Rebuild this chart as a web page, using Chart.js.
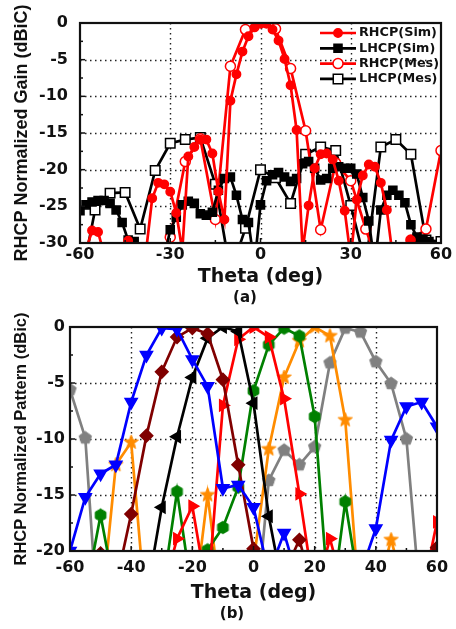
<!DOCTYPE html>
<html>
<head>
<meta charset="utf-8">
<script src="https://cdn.jsdelivr.net/npm/chart.js@4.4.0/dist/chart.umd.min.js"></script>
<style>
  html, body { margin: 0; padding: 0; background: #fff; }
  body { width: 456px; height: 629px; position: relative; overflow: hidden; }
  .pane { position: absolute; left: 0; }
  .cap { position: absolute; font: bold 15px "DejaVu Sans", sans-serif; color: #111;
         transform: translate(-50%, -50%); white-space: nowrap; }
</style>
</head>
<body>
<div class="pane" style="top:0"><canvas id="chartA" width="456" height="290" style="width:456px;height:290px"></canvas></div>
<div class="cap" style="left:245px;top:297px">(a)</div>
<div class="pane" style="top:305px"><canvas id="chartB" width="456" height="324" style="width:456px;height:324px"></canvas></div>
<div class="cap" style="left:232px;top:613px">(b)</div>
<script>
// ---------- (a) RHCP / LHCP gain, simulated (2° step) and measured (5° step) ----------
const simTheta = [-60,-58,-56,-54,-52,-50,-48,-46,-44,-42,-40,-38,-36,-34,-32,-30,-28,-26,-24,-22,-20,
  -18,-16,-14,-12,-10,-8,-6,-4,-2,0,2,4,6,8,10,12,14,16,18,20,22,24,26,28,30,32,34,36,38,40,
  42,44,46,48,50,52,54,56,58,60];
const rhcpSim = [-34,-31,-28.3,-28.5,-31.5,-35,-35,-32,-29.7,-32,-35,-31,-23.9,-21.8,-22.0,-23.0,-25.9,-31,-18.2,-16.9,-15.9,
  -15.9,-17.8,-23.0,-26.8,-10.6,-7.0,-3.9,-1.8,-0.6,0,-0.1,-0.9,-2.4,-4.9,-8.5,-14.6,-31,-24.9,-19.8,-17.9,
  -17.8,-18.6,-21.5,-25.6,-32,-24.1,-20.8,-19.3,-19.6,-21.8,-25.5,-32,-35,-33,-29.6,-31,-35,-35,-35,-35];
const lhcpSim = [-25.6,-24.8,-24.4,-24.2,-24.2,-24.6,-25.5,-27.2,-29.6,-29.8,-33,-35,-35,-35,-32,-28.2,-26.5,-24.8,-24.3,-24.6,-26.0,
  -26.2,-25.8,-22.8,-21.2,-21.0,-23.5,-26.8,-27.2,-33,-24.8,-21.5,-20.7,-20.4,-21.0,-21.6,-21.2,-19.2,-18.9,-19.8,-21.4,
  -21.2,-19.8,-19.6,-19.8,-19.8,-20.6,-23.8,-27,-33,-25.5,-23.5,-22.8,-23.5,-24.5,-27.5,-29.2,-29.5,-29.8,-30.5,-31];
const mesTheta = [-60,-55,-50,-45,-40,-35,-30,-25,-20,-15,-10,-5,0,5,10,15,20,25,30,35,40,45,50,55,60];
const rhcpMes = [-35,-35,-35,-35,-35,-33,-29.2,-18.9,-15.8,-26.8,-5.9,-0.9,0,-0.8,-6.2,-14.7,-28.2,-19.1,-21.5,-28.1,-34,-34,-29.6,-28.1,-17.4];
const lhcpMes = [-36,-25.5,-23.2,-23.1,-28.1,-20.1,-16.4,-15.9,-15.6,-22.0,-34,-28.0,-20.0,-21.1,-24.6,-17.9,-16.9,-17.4,-24.9,-33,-16.9,-15.9,-17.9,-29.6,-29.8];
const gainTicksX = [-60,-30,0,30,60];
const gainTicksY = [-30,-25,-20,-15,-10,-5,0];

// ---------- (b) normalized RHCP patterns of the steered beams ----------
const patternTheta = [-60,-55,-50,-45,-40,-35,-30,-25,-20,-15,-10,-5,0,5,10,15,20,25,30,35,40,45,50,55,60];
const beamBlue   = [-20,-15.2,-13.1,-12.3,-6.7,-2.5,-0.1,-0.2,-2.9,-5.3,-14.4,-14.1,-16.1,-22,-18.4,-23,-24,-24,-24,-22,-18,-10.1,-7.1,-6.7,-8.9];
const beamMaroon = [-24,-24,-20.2,-23,-16.7,-9.7,-4.0,-0.9,-0.1,-0.6,-4.7,-12.3,-19.8,-23,-22,-19.0,-24,-24,-24,-24,-24,-24,-24,-23,-19.7];
const beamBlack  = [-24,-24,-24,-24,-24,-24,-16.1,-9.8,-4.5,-1.0,0,-0.4,-6.8,-16.9,-24,-24,-24,-24,-24,-24,-24,-24,-24,-24,-24];
const beamRed    = [-24,-24,-24,-24,-24,-24,-24,-18.9,-16.0,-24,-7.0,-1.1,0,-0.9,-6.4,-14.9,-24,-18.9,-24,-24,-24,-24,-24,-24,-17.4];
const beamGreen  = [-24,-24,-16.8,-24,-24,-24,-24,-14.7,-24,-19.9,-17.9,-14.3,-5.7,-1.6,-0.1,-0.8,-8.0,-26,-15.6,-24,-24,-24,-24,-24,-24];
const beamOrange = [-24,-24,-26,-12.3,-10.3,-26,-24,-24,-26,-15.0,-26,-24,-21,-10.9,-4.5,-1.25,0,-0.8,-8.3,-26,-24,-19.0,-24,-24,-24];
const beamGray   = [-5.6,-9.9,-30,-24,-24,-24,-24,-24,-24,-24,-24,-24,-28,-13.7,-11.0,-12.3,-10.7,-3.2,-0.1,-0.45,-3.1,-5.05,-10.0,-26,-24];
const patternTicksX = [-60,-40,-20,0,20,40,60];
const patternTicksY = [-20,-15,-10,-5,0];

const pts = (xs, ys) => ys.map((v, i) => ({ x: xs[i], y: v }));

Chart.defaults.font.family = '"DejaVu Sans", sans-serif';
Chart.defaults.font.weight = 'bold';
Chart.defaults.color = '#111';

// custom filled polygon / star markers
function polyMarker(n, rOuter, rInner, color) {
  const s = Math.ceil(rOuter * 2 + 4);
  const c = document.createElement('canvas');
  c.width = c.height = s;
  const g = c.getContext('2d');
  g.translate(s / 2, s / 2);
  const count = rInner ? n * 2 : n;
  g.beginPath();
  for (let i = 0; i < count; i++) {
    const r = rInner ? (i % 2 ? rInner : rOuter) : rOuter;
    const a = -Math.PI / 2 + i * 2 * Math.PI / count;
    const px = Math.cos(a) * r, py = Math.sin(a) * r;
    if (i === 0) g.moveTo(px, py); else g.lineTo(px, py);
  }
  g.closePath();
  g.fillStyle = color; g.fill();
  g.lineWidth = 1; g.strokeStyle = color; g.stroke();
  return c;
}

// dotted interior grid, frame and inward ticks
const framePlugin = {
  id: 'frame',
  beforeDatasetsDraw(chart, args, o) {
    const { ctx, chartArea: a, scales: { x, y } } = chart;
    ctx.save();
    ctx.strokeStyle = '#222';
    ctx.lineWidth = 1.4;
    ctx.setLineDash([1.5, 3.5]);
    o.gridX.forEach(v => {
      const p = Math.round(x.getPixelForValue(v)) + 0.5;
      ctx.beginPath(); ctx.moveTo(p, a.top); ctx.lineTo(p, a.bottom); ctx.stroke();
    });
    o.gridY.forEach(v => {
      const p = Math.round(y.getPixelForValue(v)) + 0.5;
      ctx.beginPath(); ctx.moveTo(a.left, p); ctx.lineTo(a.right, p); ctx.stroke();
    });
    ctx.restore();
  },
  afterDatasetsDraw(chart, args, o) {
    const { ctx, chartArea: a, scales: { x, y } } = chart;
    ctx.save();
    ctx.setLineDash([]);
    ctx.strokeStyle = '#111';
    ctx.lineWidth = 2.2;
    ctx.strokeRect(a.left, a.top, a.right - a.left, a.bottom - a.top);
    ctx.lineWidth = 1.5;
    const tick = (vals, len) => {
      vals.forEach(v => {
        const p = x.getPixelForValue(v);
        ctx.beginPath(); ctx.moveTo(p, a.bottom); ctx.lineTo(p, a.bottom - len); ctx.stroke();
      });
    };
    const tickY = (vals, len) => {
      vals.forEach(v => {
        const p = y.getPixelForValue(v);
        ctx.beginPath(); ctx.moveTo(a.left, p); ctx.lineTo(a.left + len, p); ctx.stroke();
      });
    };
    tick(o.majorX, 5); tick(o.minorX, 3);
    tickY(o.majorY, 5); tickY(o.minorY, 3);
    ctx.restore();
  }
};

// line + marker legend drawn inside the plot
const curveLegend = {
  id: 'curveLegend',
  afterDraw(chart, args, o) {
    if (!o || !o.show) return;
    const ctx = chart.ctx;
    ctx.save();
    chart.data.datasets.forEach((ds, i) => {
      const yy = o.y0 + i * o.dy;
      ctx.setLineDash([]);
      ctx.strokeStyle = ds.borderColor; ctx.lineWidth = ds.borderWidth;
      ctx.beginPath(); ctx.moveTo(o.x0, yy); ctx.lineTo(o.x1, yy); ctx.stroke();
      ctx.fillStyle = ds.pointBackgroundColor;
      ctx.strokeStyle = ds.pointBorderColor;
      ctx.lineWidth = ds.pointBorderWidth;
      Chart.helpers.drawPoint(ctx, { pointStyle: ds.pointStyle, radius: ds.pointRadius, rotation: 0,
        borderWidth: ds.pointBorderWidth }, (o.x0 + o.x1) / 2, yy);
      ctx.fillStyle = '#111';
      ctx.font = 'bold 12.8px "DejaVu Sans", sans-serif';
      ctx.textBaseline = 'middle'; ctx.textAlign = 'left';
      ctx.fillText(ds.label, o.x1 + 3, yy);
    });
    ctx.restore();
  }
};

const noClip = { left: 0, top: 0, right: 0, bottom: 0 };

function lineSet(label, xs, ys, color, style, radius, fill, extra) {
  return Object.assign({
    label, data: pts(xs, ys),
    borderColor: color, borderWidth: 2.7,
    pointStyle: style, pointRadius: radius, pointHoverRadius: radius,
    pointBackgroundColor: fill, pointBorderColor: color, pointBorderWidth: 1.5,
    tension: 0, fill: false, clip: noClip
  }, extra || {});
}

new Chart(document.getElementById('chartA'), {
  type: 'line',
  data: {
    datasets: [
      lineSet('RHCP(Sim)', simTheta, rhcpSim, '#ff0000', 'circle', 4.2, '#ff0000'),
      lineSet('LHCP(Sim)', simTheta, lhcpSim, '#000000', 'rect', 5.7, '#000000'),
      lineSet('RHCP(Mes)', mesTheta, rhcpMes, '#ff0000', 'circle', 5, '#ffffff'),
      lineSet('LHCP(Mes)', mesTheta, lhcpMes, '#000000', 'rect', 6.7, '#ffffff')
    ]
  },
  options: {
    responsive: false, animation: false, events: [],
    layout: { padding: { left: 0, right: 15, top: 23, bottom: 0 } },
    plugins: {
      legend: { display: false }, tooltip: { enabled: false },
      frame: { gridX: [-30, 0, 30], gridY: [-25, -20, -15, -10, -5],
               majorX: gainTicksX, minorX: [-45, -15, 15, 45],
               majorY: gainTicksY, minorY: [-27.5, -22.5, -17.5, -12.5, -7.5, -2.5] },
      curveLegend: { show: true, x0: 320, x1: 356, y0: 33, dy: 15.3 }
    },
    scales: {
      x: {
        type: 'linear', min: -60, max: 60,
        grid: { display: false, drawTicks: false }, border: { display: false },
        afterBuildTicks: s => { s.ticks = gainTicksX.map(v => ({ value: v })); },
        ticks: { padding: 2, color: '#111', font: { size: 16, weight: 'bold' }, maxRotation: 0, autoSkip: false },
        title: { display: true, text: 'Theta (deg)', color: '#111', font: { size: 19, weight: 'bold' },
                 padding: { top: 0, bottom: 2 } },
        afterFit: s => { s.height = 47; }
      },
      y: {
        min: -30, max: 0,
        grid: { display: false, drawTicks: false }, border: { display: false },
        afterBuildTicks: s => { s.ticks = gainTicksY.map(v => ({ value: v })); },
        ticks: { padding: 12, color: '#111', font: { size: 16, weight: 'bold' } },
        title: { display: true, text: 'RHCP Normalized Gain (dBiC)', color: '#111',
                 font: { family: '"Liberation Sans", Arial, sans-serif', size: 18, weight: 'bold' },
                 padding: { top: 11, bottom: 0 } },
        afterFit: s => { s.width = 80; }
      }
    }
  },
  plugins: [framePlugin, curveLegend]
});

const starOrange = polyMarker(5, 7.5, 3.2, '#ff8c00');
const hexGreen = polyMarker(6, 6.2, 0, '#008000');
const pentGray = polyMarker(5, 6.5, 0, '#808080');

new Chart(document.getElementById('chartB'), {
  type: 'line',
  data: {
    datasets: [
      lineSet('beam -30', patternTheta, beamBlue, '#0000ff', 'triangle', 7, '#0000ff', { pointRotation: 180 }),
      lineSet('beam -20', patternTheta, beamMaroon, '#800000', 'rectRot', 6.3, '#800000'),
      lineSet('beam -10', patternTheta, beamBlack, '#000000', 'triangle', 6.5, '#000000', { pointRotation: 270 }),
      lineSet('beam 0', patternTheta, beamRed, '#ff0000', 'triangle', 6.5, '#ff0000', { pointRotation: 90 }),
      lineSet('beam 10', patternTheta, beamGreen, '#008000', hexGreen, 6, '#008000'),
      lineSet('beam 20', patternTheta, beamOrange, '#ff8c00', starOrange, 7, '#ff8c00'),
      lineSet('beam 30', patternTheta, beamGray, '#808080', pentGray, 6, '#808080')
    ]
  },
  options: {
    responsive: false, animation: false, events: [],
    layout: { padding: { left: 0, right: 19, top: 22, bottom: 0 } },
    plugins: {
      legend: { display: false }, tooltip: { enabled: false },
      frame: { gridX: [-40, -20, 0, 20, 40], gridY: [-15, -10, -5],
               majorX: patternTicksX, minorX: [-50, -30, -10, 10, 30, 50],
               majorY: patternTicksY, minorY: [-17.5, -12.5, -7.5, -2.5] },
      curveLegend: { show: false }
    },
    scales: {
      x: {
        type: 'linear', min: -60, max: 60,
        grid: { display: false, drawTicks: false }, border: { display: false },
        afterBuildTicks: s => { s.ticks = patternTicksX.map(v => ({ value: v })); },
        ticks: { padding: 7, color: '#111', font: { size: 16, weight: 'bold' }, maxRotation: 0, autoSkip: false },
        title: { display: true, text: 'Theta (deg)', color: '#111', font: { size: 19, weight: 'bold' },
                 padding: { top: 0, bottom: 25 } },
        afterFit: s => { s.height = 78; }
      },
      y: {
        min: -20, max: 0,
        grid: { display: false, drawTicks: false }, border: { display: false },
        afterBuildTicks: s => { s.ticks = patternTicksY.map(v => ({ value: v })); },
        ticks: { padding: 5, color: '#111', font: { size: 16, weight: 'bold' } },
        title: { display: true, text: 'RHCP Normalized Pattern (dBic)', color: '#111',
                 font: { family: '"Liberation Sans", Arial, sans-serif', size: 16.5, weight: 'bold' },
                 padding: { top: 12, bottom: 0 } },
        afterFit: s => { s.width = 70; }
      }
    }
  },
  plugins: [framePlugin, curveLegend]
});
</script>
</body>
</html>
